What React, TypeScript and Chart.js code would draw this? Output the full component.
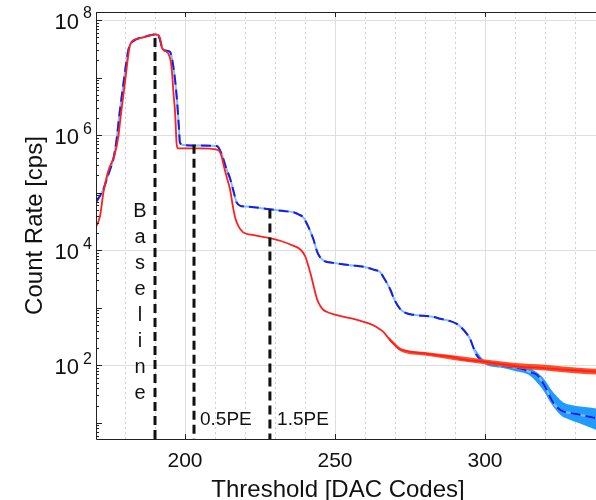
import React, { useEffect, useRef } from 'react';
import { Chart, registerables } from 'chart.js';

Chart.register(...registerables);

// ---- axis ranges ----
const X_MIN = 170.33;
const X_MAX = 337;
const Y_MIN = 5.24;
const Y_MAX = 1.38e8;

// ---- tick labels ----
const xTickLabels = [200, 250, 300];
const xMinorTicks = [180, 190, 210, 220, 230, 240, 260, 270, 280, 290, 310, 320, 330];
const yTickExponents = [2, 4, 6, 8];

// ---- red solid curve (x in DAC codes, log10 of count rate) ----
const redX = [170.3, 171.7, 172.8, 174, 175, 176.5, 177.8, 178.5, 179.4, 180.3, 181, 181.7, 183.9, 186.1, 188, 190, 191.1, 191.7, 192.3, 193.5, 194.4, 195.2, 195.6, 196.2, 196.7, 197.2, 197.6, 200, 205, 210.6, 211.5, 212.2, 213, 214, 215, 216, 216.8, 217.8, 219.4, 222, 225, 228.3, 232, 236, 238.3, 240, 241.7, 243, 244, 245, 246, 247.2, 250, 255, 258, 261.7, 264, 266.1, 268, 270, 271.5, 273, 276, 280.6, 285, 288.3, 293, 300, 307, 312.8, 318, 325, 331, 337];
const redLog = [4.40, 4.60, 5.00, 5.30, 5.46, 5.65, 5.98, 6.30, 6.67, 7.05, 7.35, 7.57, 7.67, 7.70, 7.73, 7.75, 7.74, 7.68, 7.52, 7.46, 7.42, 7.30, 7.13, 6.70, 6.39, 5.85, 5.77, 5.77, 5.77, 5.75, 5.72, 5.63, 5.45, 5.25, 5.06, 4.75, 4.55, 4.42, 4.31, 4.27, 4.24, 4.21, 4.16, 4.08, 4.02, 3.90, 3.62, 3.35, 3.15, 3.04, 2.97, 2.93, 2.88, 2.82, 2.78, 2.72, 2.66, 2.58, 2.46, 2.35, 2.28, 2.26, 2.23, 2.20, 2.17, 2.15, 2.10, 2.06, 2.01, 1.97, 1.96, 1.93, 1.91, 1.89];

// ---- blue dashed curve ----
const blueX = [170.3, 172.8, 173.9, 175, 176.1, 177.2, 178, 178.9, 180, 181, 181.7, 183.9, 186, 188, 190, 191.1, 191.7, 192.5, 193.5, 195, 195.6, 196.1, 196.7, 197.4, 198, 198.3, 199.4, 205, 210.6, 212, 213.9, 215, 216.3, 217.2, 218.5, 220.6, 228.3, 233, 236.1, 238, 239.4, 241, 242.8, 244, 245, 246.5, 249.4, 255, 260.6, 263, 265, 266.5, 268.3, 270, 271.7, 273.5, 276.1, 282.8, 285, 288.3, 290.6, 292, 293.9, 295, 296.2, 297.2, 298.5, 300, 303, 307.2, 312.8, 315, 317.2, 318.5, 320, 321.7, 323, 324.5, 326, 327.5, 331.7, 337];
const blueLog = [4.83, 5.06, 5.23, 5.40, 5.58, 5.92, 6.30, 6.67, 7.10, 7.45, 7.57, 7.67, 7.70, 7.73, 7.75, 7.73, 7.65, 7.50, 7.47, 7.45, 7.35, 7.19, 6.95, 6.56, 6.10, 5.87, 5.83, 5.82, 5.81, 5.70, 5.40, 5.25, 5.00, 4.83, 4.77, 4.76, 4.71, 4.68, 4.66, 4.62, 4.57, 4.42, 4.19, 3.98, 3.88, 3.81, 3.78, 3.74, 3.70, 3.66, 3.62, 3.50, 3.33, 3.12, 2.98, 2.91, 2.88, 2.84, 2.81, 2.77, 2.72, 2.66, 2.55, 2.46, 2.30, 2.18, 2.10, 2.05, 2.02, 1.98, 1.93, 1.88, 1.84, 1.76, 1.63, 1.45, 1.33, 1.25, 1.20, 1.18, 1.14, 1.08];

// ---- uncertainty bands (log10 lower / upper) ----
const blueBandX = [296, 300, 305, 310, 315, 318, 320, 322, 324, 326, 328, 331, 334, 337];
const blueBandLo = [2.27, 2.02, 1.96, 1.90, 1.82, 1.66, 1.52, 1.34, 1.20, 1.10, 1.06, 1.00, 0.94, 0.88];
const blueBandHi = [2.33, 2.08, 2.04, 2.00, 1.95, 1.85, 1.74, 1.58, 1.46, 1.36, 1.32, 1.29, 1.27, 1.25];

const redBandX = [268, 272, 280, 290, 300, 310, 320, 330, 337];
const redBandLo = [2.43, 2.24, 2.17, 2.09, 2.02, 1.95, 1.91, 1.86, 1.84];
const redBandHi = [2.49, 2.30, 2.23, 2.17, 2.10, 2.04, 2.01, 1.96, 1.94];

// ---- threshold markers ----
const markerX = [190, 203, 228.3];
const markerTop = [4.9e7, 6.8e5, 5.1e4];
const markerLabels = ['Baseline', '0.5PE', '1.5PE'];
const markerLabelX = [185, 205, 230.7];
const markerLabelLog = [4.68, 1.05, 1.05];

const FONT = '"Liberation Sans", Arial, Helvetica, sans-serif';

const toPts = (xs: number[], ls: number[]) => xs.map((x, i) => ({ x, y: Math.pow(10, ls[i]) }));

const decorPlugin = {
  id: 'decor',
  beforeDatasetsDraw(chart: any) {
    const { ctx, chartArea: a, scales } = chart;
    const xs = scales.x, ys = scales.y;
    ctx.save();
    ctx.lineWidth = 1;
    ctx.strokeStyle = '#cfcfcf';
    ctx.setLineDash([2, 3]);
    xMinorTicks.forEach((v) => {
      const px = Math.round(xs.getPixelForValue(v)) + 0.5;
      ctx.beginPath();
      ctx.moveTo(px, a.top);
      ctx.lineTo(px, a.bottom);
      ctx.stroke();
    });
    ctx.setLineDash([]);
    ctx.strokeStyle = '#dedede';
    xTickLabels.forEach((v) => {
      const px = Math.round(xs.getPixelForValue(v)) + 0.5;
      ctx.beginPath();
      ctx.moveTo(px, a.top);
      ctx.lineTo(px, a.bottom);
      ctx.stroke();
    });
    yTickExponents.forEach((e) => {
      const py = Math.round(ys.getPixelForValue(Math.pow(10, e))) + 0.5;
      ctx.beginPath();
      ctx.moveTo(a.left, py);
      ctx.lineTo(a.right, py);
      ctx.stroke();
    });
    ctx.restore();
  },
  afterDatasetsDraw(chart: any) {
    const { ctx, chartArea: a, scales } = chart;
    const xs = scales.x, ys = scales.y;
    ctx.save();
    ctx.strokeStyle = '#222';
    ctx.lineWidth = 1;
    ctx.beginPath();
    ctx.moveTo(a.left + 0.5, a.top + 0.5);
    ctx.lineTo(a.right, a.top + 0.5);
    ctx.moveTo(a.left + 0.5, a.top);
    ctx.lineTo(a.left + 0.5, a.bottom + 0.5);
    ctx.lineTo(a.right, a.bottom + 0.5);
    ctx.stroke();
    ctx.beginPath();
    for (let e = 0; e <= 8; e++) {
      for (let k = 1; k <= 9; k++) {
        const v = k * Math.pow(10, e);
        if (v < Y_MIN || v > Y_MAX) continue;
        const py = Math.round(ys.getPixelForValue(v)) + 0.5;
        const len = k === 1 ? 6 : 3;
        ctx.moveTo(a.left, py);
        ctx.lineTo(a.left + len, py);
      }
    }
    xTickLabels.forEach((v) => {
      const px = Math.round(xs.getPixelForValue(v)) + 0.5;
      ctx.moveTo(px, a.bottom);
      ctx.lineTo(px, a.bottom - 5);
      ctx.moveTo(px, a.top);
      ctx.lineTo(px, a.top + 5);
    });
    ctx.stroke();

    ctx.fillStyle = '#111';
    yTickExponents.forEach((e) => {
      const py = ys.getPixelForValue(Math.pow(10, e));
      ctx.font = `22px ${FONT}`;
      ctx.textAlign = 'right';
      ctx.textBaseline = 'middle';
      ctx.fillText('10', 79, py + 3);
      ctx.font = `16px ${FONT}`;
      ctx.textAlign = 'left';
      ctx.fillText(String(e), 83, py - 6);
    });
    ctx.font = `21px ${FONT}`;
    ctx.textAlign = 'center';
    ctx.textBaseline = 'middle';
    xTickLabels.forEach((v) => {
      ctx.fillText(String(v), xs.getPixelForValue(v), 461);
    });
    ctx.font = `24px ${FONT}`;
    ctx.fillText('Threshold [DAC Codes]', (a.left + a.right) / 2 - 8, 490);
    ctx.save();
    ctx.translate(35, (a.top + a.bottom) / 2);
    ctx.rotate(-Math.PI / 2);
    ctx.fillText('Count Rate [cps]', 0, 0);
    ctx.restore();

    ctx.font = `20px ${FONT}`;
    const letters = markerLabels[0].split('');
    const bx = xs.getPixelForValue(markerLabelX[0]);
    const by = ys.getPixelForValue(Math.pow(10, markerLabelLog[0]));
    ctx.textAlign = 'center';
    letters.forEach((ch, i) => ctx.fillText(ch, bx, by + i * 26));
    ctx.font = `19px ${FONT}`;
    ctx.textAlign = 'left';
    for (let i = 1; i < markerLabels.length; i++) {
      ctx.fillText(markerLabels[i], xs.getPixelForValue(markerLabelX[i]), ys.getPixelForValue(Math.pow(10, markerLabelLog[i])));
    }
    ctx.restore();
  },
};

export default function App() {
  const ref = useRef<HTMLCanvasElement | null>(null);
  useEffect(() => {
    if (!ref.current) return;
    const markerSets = markerX.map((x, i) => ({
      label: markerLabels[i],
      data: [{ x, y: markerTop[i] }, { x, y: Y_MIN }],
      borderColor: '#111',
      borderWidth: 3,
      borderDash: [9, 5],
      pointRadius: 0,
      tension: 0,
      fill: false,
      order: 0,
    }));
    const chart = new Chart(ref.current, {
      type: 'line',
      data: {
        datasets: [
          {
            label: 'blue band hi',
            data: toPts(blueBandX, blueBandHi),
            borderWidth: 0,
            pointRadius: 0,
            backgroundColor: 'rgba(20,150,255,0.95)',
            fill: '+1',
            cubicInterpolationMode: 'monotone',
            order: 5,
          },
          {
            label: 'blue band lo',
            data: toPts(blueBandX, blueBandLo),
            borderWidth: 0,
            pointRadius: 0,
            fill: false,
            cubicInterpolationMode: 'monotone',
            order: 5,
          },
          {
            label: 'red band hi',
            data: toPts(redBandX, redBandHi),
            borderWidth: 0,
            pointRadius: 0,
            backgroundColor: 'rgba(255,70,25,0.95)',
            fill: '+1',
            cubicInterpolationMode: 'monotone',
            order: 2,
          },
          {
            label: 'red band lo',
            data: toPts(redBandX, redBandLo),
            borderWidth: 0,
            pointRadius: 0,
            fill: false,
            cubicInterpolationMode: 'monotone',
            order: 2,
          },
          {
            label: 'blue band core',
            data: toPts(blueX, blueLog),
            borderColor: '#7cc0ff',
            borderWidth: 2,
            pointRadius: 0,
            fill: false,
            cubicInterpolationMode: 'monotone',
            order: 4,
          },
          {
            label: 'blue',
            data: toPts(blueX, blueLog),
            borderColor: '#1c1ce8',
            borderWidth: 2,
            borderDash: [10, 5],
            pointRadius: 0,
            fill: false,
            cubicInterpolationMode: 'monotone',
            order: 3,
          },
          {
            label: 'red',
            data: toPts(redX, redLog),
            borderColor: '#ff1f1f',
            borderWidth: 1.8,
            pointRadius: 0,
            fill: false,
            cubicInterpolationMode: 'monotone',
            order: 1,
          },
          ...markerSets,
        ],
      },
      options: {
        responsive: false,
        animation: false,
        devicePixelRatio: 1,
        layout: { padding: { top: 12, right: 0, bottom: 0, left: 0 } },
        plugins: { legend: { display: false }, tooltip: { enabled: false } },
        scales: {
          x: {
            type: 'linear',
            min: X_MIN,
            max: X_MAX,
            ticks: { display: false },
            grid: { display: false },
            border: { display: false },
            afterFit: (s: any) => { s.height = 61; },
          },
          y: {
            type: 'logarithmic',
            min: Y_MIN,
            max: Y_MAX,
            ticks: { display: false },
            grid: { display: false },
            border: { display: false },
            afterFit: (s: any) => { s.width = 96; },
          },
        },
      },
      plugins: [decorPlugin],
    } as any);
    return () => chart.destroy();
  }, []);
  return (
    <div style={{ position: 'fixed', left: 0, top: 0, width: 596, height: 500, background: '#fff' }}>
      <canvas ref={ref} width={596} height={500} style={{ display: 'block' }} />
    </div>
  );
}
